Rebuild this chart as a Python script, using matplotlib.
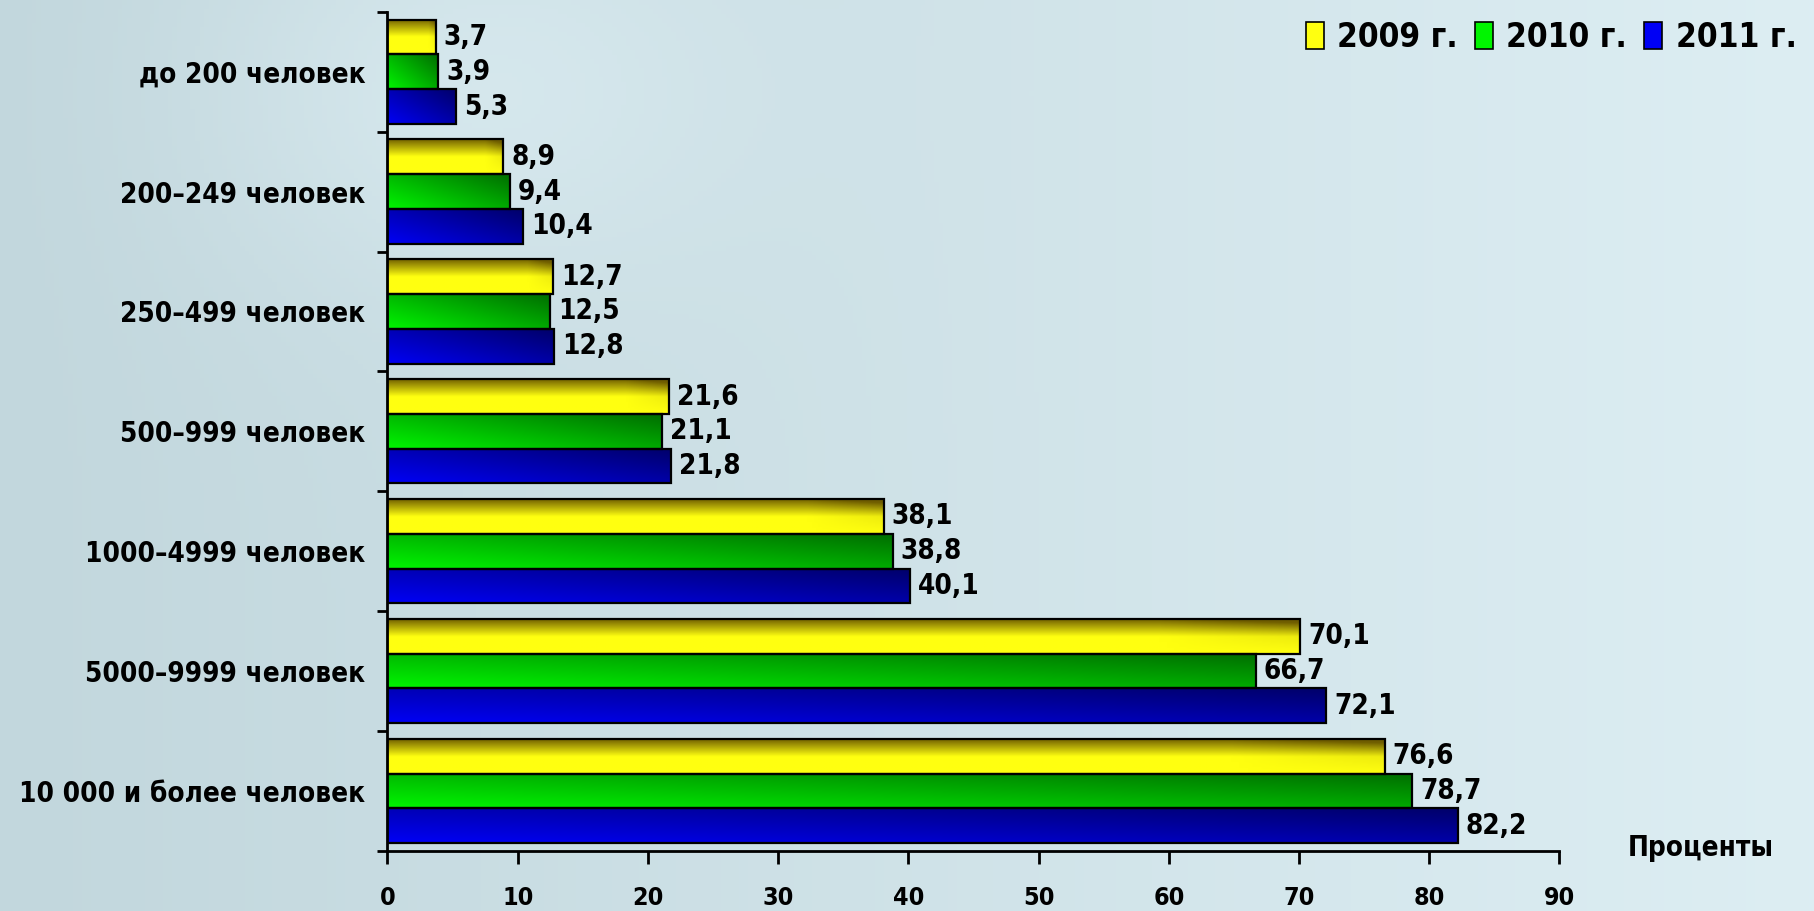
import numpy as np
import matplotlib
matplotlib.use('Agg')
import matplotlib.pyplot as plt
from matplotlib.patches import Patch
from matplotlib.colors import LinearSegmentedColormap

plt.rcParams['font.family'] = ['DejaVu Sans']
plt.rcParams['font.stretch'] = 'condensed'
plt.rcParams['font.weight'] = 'bold'

# данные
kategorii = ['до 200 человек', '200–249 человек', '250–499 человек', '500–999 человек',
             '1000–4999 человек', '5000–9999 человек', '10 000 и более человек']
god_2009 = [3.7, 8.9, 12.7, 21.6, 38.1, 70.1, 76.6]
god_2010 = [3.9, 9.4, 12.5, 21.1, 38.8, 66.7, 78.7]
god_2011 = [5.3, 10.4, 12.8, 21.8, 40.1, 72.1, 82.2]
legenda = ['2009 г.', '2010 г.', '2011 г.']
x_ticks = [0, 10, 20, 30, 40, 50, 60, 70, 80, 90]

# цвета (светлый, тёмный)
cveta = [('#ffff10', '#6e5c00'), ('#00f500', '#006e00'), ('#0000f5', '#00006a')]

fig = plt.figure(figsize=(18.14, 9.11), dpi=100)

# фон
bg = fig.add_axes([0, 0, 1, 1], zorder=-10)
gx, gy = np.meshgrid(np.linspace(0, 1, 400), np.linspace(0, 1, 200))
fon = 0.55 * gx + 0.25 * np.exp(-((gx - 0.25) ** 2) / 0.02 - ((gy - 0.9) ** 2) / 0.05)
fon_cmap = LinearSegmentedColormap.from_list('fon', ['#c2d7dd', '#e4f4f9'])
bg.imshow(fon, cmap=fon_cmap, aspect='auto', extent=[0, 1, 0, 1], origin='lower', vmin=0, vmax=0.7)
bg.axis('off')

ax = fig.add_axes([0.2136, 0.066, 0.6461, 0.921])
ax.patch.set_alpha(0)

n = len(kategorii)
pos = np.arange(n)
h = 0.29
serii = [god_2009, god_2010, god_2011]
sdvig = [-h, 0, h]


def gradient_bar(x0, y0, w, hh, svet, temn, tip):
    bar = ax.barh(y0, w, height=hh, left=x0, color='none', edgecolor='black', linewidth=1.6, zorder=3)[0]
    xx, yy = np.meshgrid(np.linspace(0, 1, 120), np.linspace(0, 1, 40))
    # yy=0 верх бруска (ось перевёрнута)
    if tip == 0:
        d = np.clip(1 - yy * 2.0, 0, 1) * 0.95 + np.clip((xx - 0.85) * 4, 0, 1) * 0.4 * (1 - yy)
    else:
        d = 0.55 * xx + 0.45 * (1 - yy)
    d = np.clip(d, 0, 1)
    cm = LinearSegmentedColormap.from_list('g', [svet, temn])
    im = ax.imshow(d, cmap=cm, vmin=0, vmax=1, aspect='auto', zorder=2,
                   extent=[x0, x0 + w, y0 + hh / 2, y0 - hh / 2], origin='upper')
    im.set_clip_path(bar)


for k, (vals, (sv, tm)) in enumerate(zip(serii, cveta)):
    for i, v in enumerate(vals):
        gradient_bar(0, pos[i] + sdvig[k], v, h, sv, tm, k)
        ax.text(v + 0.6, pos[i] + sdvig[k], ('%.1f' % v).replace('.', ','),
                va='center', ha='left', fontsize=20, fontweight='bold', zorder=4)

ax.set_xlim(0, 90)
ax.set_ylim(n - 0.5, -0.5)
ax.set_xticks(x_ticks)
ax.set_xticklabels([str(t) for t in x_ticks], fontsize=18, fontweight='bold')
ax.set_yticks(pos)
ax.set_yticklabels(kategorii, fontsize=20, fontweight='bold')
ax.set_yticks(np.arange(n + 1) - 0.5, minor=True)
ax.tick_params(axis='y', which='major', length=0, pad=16)
ax.tick_params(axis='y', which='minor', length=7, width=2)
ax.tick_params(axis='x', which='major', length=9, width=2, pad=16)
for s in ['top', 'right']:
    ax.spines[s].set_visible(False)
ax.spines['left'].set_linewidth(2)
ax.spines['bottom'].set_linewidth(2)

fig.text(0.9375, 0.069, 'Проценты', ha='center', va='center', fontsize=20, fontweight='bold')

ruchki = [Patch(facecolor=sv, edgecolor='black', linewidth=1.2) for sv, tm in cveta]
fig.legend(ruchki, legenda, loc='upper right', bbox_to_anchor=(1.007, 1.01), ncol=3, frameon=False,
           prop={'size': 24, 'weight': 'bold'}, handlelength=0.55, handleheight=0.9,
           handletextpad=0.4, columnspacing=0.5)

fig.savefig('out.png', dpi=100)
